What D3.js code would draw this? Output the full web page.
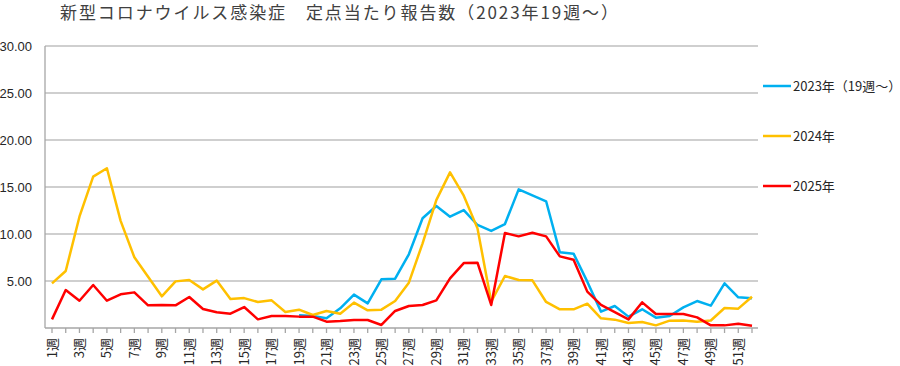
<!DOCTYPE html>
<html>
<head>
<meta charset="utf-8">
<script src="https://cdn.jsdelivr.net/npm/d3@7"></script>
<style>
  body { margin: 0; background: #fff; }
  svg { display: block; font-family: "Noto Sans CJK JP", "Liberation Sans", sans-serif; }
</style>
</head>
<body>
<svg id="chart" width="900" height="366"></svg>
<script>
// weeks 1..52
const weeks = d3.range(1, 53).map(w => w + "週");

// 2023 (from week 19)
const s2023 = [null, null, null, null, null, null, null, null, null, null,
  null, null, null, null, null, null, null, null,
  1.35, 1.28, 1.03, 2.09, 3.55, 2.62, 5.18, 5.25, 7.84, 11.67, 12.98, 11.84,
  12.55, 10.96, 10.33, 11.06, 14.75, 14.11, 13.48, 8.05, 7.91, 4.93,
  1.74, 2.34, 1.21, 1.99, 1.10, 1.28, 2.20, 2.87, 2.38, 4.75, 3.26, 3.16];

const s2024 = [4.75, 6.06, 11.84, 16.10, 17.00, 11.40, 7.52, 5.46, 3.37, 4.96,
  5.10, 4.11, 5.04, 3.09, 3.18, 2.77, 2.94, 1.70, 1.95, 1.38,
  1.81, 1.52, 2.70, 1.88, 1.95, 2.87, 4.82, 9.01, 13.60, 16.56,
  14.08, 10.60, 2.80, 5.53, 5.10, 5.07, 2.77, 1.99, 1.99, 2.59,
  1.03, 0.89, 0.53, 0.64, 0.28, 0.78, 0.80, 0.67, 0.80, 2.13, 2.06, 3.33];

const s2025 = [0.92, 4.04, 2.90, 4.57, 2.90, 3.58, 3.79, 2.41, 2.45, 2.41,
  3.30, 2.02, 1.67, 1.52, 2.23, 0.92, 1.28, 1.28, 1.21, 1.21,
  0.67, 0.74, 0.85, 0.85, 0.32, 1.81, 2.34, 2.45, 2.94, 5.28,
  6.91, 6.95, 2.45, 10.10, 9.75, 10.14, 9.75, 7.62, 7.27, 3.87,
  2.45, 1.70, 0.92, 2.73, 1.49, 1.49, 1.49, 1.13, 0.28, 0.28, 0.46, 0.25];

const seriesNames = ["2023年（19週～）", "2024年", "2025年"];
const seriesColors = ["#00b0f0", "#ffc000", "#ff0000"];
const yTicks = [5, 10, 15, 20, 25, 30];

const title = "新型コロナウイルス感染症　定点当たり報告数（2023年19週～）";

const svg = d3.select("#chart");

const plotLeft = 45, plotRight = 758, plotTop = 46, plotBottom = 328;

const x = d3.scalePoint()
            .domain(weeks)
            .range([52, 752]);

const y = d3.scaleLinear()
            .domain([0, 30])
            .range([plotBottom, plotTop]);

// title
svg.append("text")
   .attr("x", 60)
   .attr("y", 19)
   .attr("font-size", 17)
   .attr("fill", "#404040")
   .attr("textLength", 558)
   .attr("lengthAdjust", "spacing")
   .text(title);

// gridlines
svg.append("g")
   .selectAll("line")
   .data(yTicks)
   .join("line")
   .attr("x1", plotLeft)
   .attr("x2", plotRight)
   .attr("y1", d => y(d))
   .attr("y2", d => y(d))
   .attr("stroke", "#bfbfbf")
   .attr("stroke-width", 1.3);

// y labels
svg.append("g")
   .selectAll("text")
   .data(yTicks)
   .join("text")
   .attr("x", 32)
   .attr("y", d => y(d))
   .attr("dy", "0.35em")
   .attr("text-anchor", "end")
   .attr("font-size", 13)
   .attr("font-family", "Liberation Sans, sans-serif")
   .attr("fill", "#262626")
   .text(d => d3.format(".2f")(d));

// axes lines
svg.append("line")
   .attr("x1", plotLeft).attr("x2", plotLeft)
   .attr("y1", plotTop).attr("y2", plotBottom)
   .attr("stroke", "#a6a6a6").attr("stroke-width", 1.3);

svg.append("line")
   .attr("x1", plotLeft).attr("x2", plotRight)
   .attr("y1", plotBottom).attr("y2", plotBottom)
   .attr("stroke", "#a6a6a6").attr("stroke-width", 1.3);

// x ticks
svg.append("g")
   .selectAll("line")
   .data(weeks)
   .join("line")
   .attr("x1", d => x(d)).attr("x2", d => x(d))
   .attr("y1", plotBottom).attr("y2", plotBottom + 5)
   .attr("stroke", "#a6a6a6").attr("stroke-width", 1.3);

// x labels, odd weeks only
svg.append("g")
   .selectAll("text")
   .data(weeks.filter((d, i) => i % 2 === 0))
   .join("text")
   .attr("transform", d => `translate(${x(d)},338) rotate(-90)`)
   .attr("dy", "0.35em")
   .attr("text-anchor", "end")
   .attr("font-size", 13)
   .attr("fill", "#262626")
   .text(d => d);

// lines
const line = d3.line()
               .defined(d => d.v !== null)
               .x(d => x(d.w))
               .y(d => y(d.v));

[s2023, s2024, s2025].forEach((s, i) => {
  svg.append("path")
     .datum(s.map((v, j) => ({w: weeks[j], v: v})))
     .attr("fill", "none")
     .attr("stroke", seriesColors[i])
     .attr("stroke-width", 2.5)
     .attr("stroke-linejoin", "round")
     .attr("d", line);
});

// legend
const legendY = [86, 136, 186];
const legend = svg.append("g")
                  .selectAll("g")
                  .data(seriesNames)
                  .join("g")
                  .attr("transform", (d, i) => `translate(763,${legendY[i]})`);

legend.append("line")
      .attr("x1", 0).attr("x2", 28)
      .attr("stroke", (d, i) => seriesColors[i])
      .attr("stroke-width", 2.5);

legend.append("text")
      .attr("x", 30)
      .attr("dy", "0.35em")
      .attr("font-size", 13)
      .attr("fill", "#262626")
      .text(d => d);
</script>
</body>
</html>
